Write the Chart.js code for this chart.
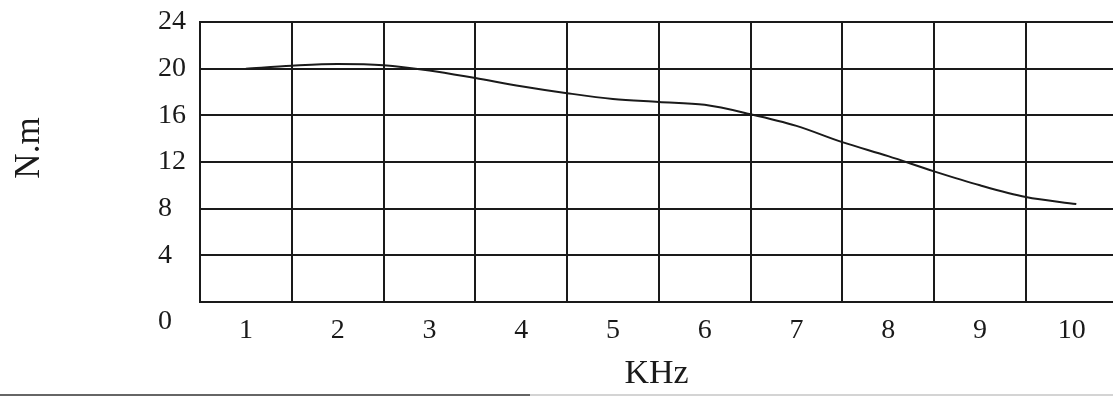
<!DOCTYPE html>
<html>
<head>
<meta charset="utf-8">
<script src="https://cdn.jsdelivr.net/npm/chart.js@4/dist/chart.umd.min.js"></script>
<style>
  html, body { margin: 0; padding: 0; background: #fff; overflow: hidden; }
  #wrap { position: relative; width: 1113px; height: 397px; }
  #c { display: block; }
  .scan1 { position: absolute; left: 0; top: 394px; width: 530px; height: 2px; background: #666; }
  .scan2 { position: absolute; left: 530px; top: 394px; width: 583px; height: 2px; background: #d4d4d4; }
</style>
</head>
<body>
<div id="wrap">
  <canvas id="c" width="1113" height="397"></canvas>
  <div class="scan1"></div><div class="scan2"></div>
</div>
<script>
// ---- data ----
const freqKHz = [1, 1.5, 2, 2.5, 3, 3.5, 4, 4.5, 5, 5.5, 6, 6.5, 7, 7.5, 8, 8.5, 9, 9.5, 10.05];
const torqueNm = [20.0, 20.25, 20.4, 20.3, 19.85, 19.2, 18.5, 17.9, 17.4, 17.15, 16.9, 16.1, 15.1, 13.7, 12.5, 11.2, 10.0, 9.0, 8.4];
const xTickValues = [1, 2, 3, 4, 5, 6, 7, 8, 9, 10];
const xTickLabels = ['1', '2', '3', '4', '5', '6', '7', '8', '9', '10'];
const yTickValues = [0, 4, 8, 12, 16, 20, 24];
const xTitle = 'KHz';
const yTitle = 'N.m';

const FONT = "'Liberation Serif', 'Times New Roman', serif";
const INK = '#1a1a1a';
const PAD = '\u2002'; // en space = one digit width, keeps single digits left-aligned with two-digit labels

// x grid lines sit at half-integers (cell borders), labels at integers (cell centres)
const xTickList = [];
xTickValues.forEach(v => { xTickList.push(v - 0.5); xTickList.push(v); });

const extraText = {
  id: 'extraText',
  afterDraw(chart) {
    const { ctx } = chart;
    const y = chart.scales.y;
    ctx.save();
    ctx.fillStyle = INK;
    // "0" of the y axis sits level with the x labels
    ctx.font = '28px ' + FONT;
    ctx.textAlign = 'right';
    ctx.textBaseline = 'middle';
    ctx.fillText(String(yTickValues[0]) + PAD, y.right - 14, y.getPixelForValue(0) + 20);
    // y axis title
    ctx.font = '35px ' + FONT;
    ctx.textAlign = 'center';
    ctx.translate(30, 148);
    ctx.rotate(-Math.PI / 2);
    ctx.fillText(yTitle, 0, 0);
    ctx.restore();
  }
};

new Chart(document.getElementById('c'), {
  type: 'line',
  data: {
    datasets: [{
      data: freqKHz.map((x, i) => ({ x, y: torqueNm[i] })),
      borderColor: INK,
      borderWidth: 2,
      pointRadius: 0,
      fill: false,
      cubicInterpolationMode: 'monotone'
    }]
  },
  plugins: [extraText],
  options: {
    responsive: false,
    animation: false,
    layout: { padding: { top: 22, right: 0, left: 0, bottom: 0 } },
    plugins: { legend: { display: false }, tooltip: { enabled: false } },
    scales: {
      x: {
        type: 'linear',
        min: 0.5,
        max: 10.45,
        afterBuildTicks(scale) { scale.ticks = xTickList.map(v => ({ value: v })); },
        afterFit(scale) { scale.height = 95; scale.paddingLeft = 0; scale.paddingRight = 0; },
        grid: {
          color: ctx => (ctx.tick && Number.isInteger(ctx.tick.value)) ? 'rgba(0,0,0,0)' : INK,
          lineWidth: 2,
          drawTicks: false
        },
        border: { color: INK, width: 2 },
        ticks: {
          autoSkip: false,
          maxRotation: 0,
          padding: 12,
          color: INK,
          font: { family: FONT, size: 28 },
          callback: v => {
            const i = xTickValues.indexOf(v);
            return i >= 0 ? xTickLabels[i] : '';
          }
        },
        title: {
          display: true,
          text: xTitle,
          color: INK,
          font: { family: FONT, size: 34 },
          padding: { top: 2, bottom: 3 }
        }
      },
      y: {
        min: 0,
        max: 24,
        afterBuildTicks(scale) { scale.ticks = yTickValues.map(v => ({ value: v })); },
        afterFit(scale) { scale.width = 200; scale.paddingTop = 0; scale.paddingBottom = 0; },
        grid: { color: INK, lineWidth: 2, drawTicks: false },
        border: { color: INK, width: 2 },
        ticks: {
          padding: 14,
          color: INK,
          font: { family: FONT, size: 28 },
          callback: v => (v === 0 ? '' : (v < 10 ? String(v) + PAD : String(v)))
        },
        title: { display: false, text: yTitle }
      }
    }
  }
});
</script>
</body>
</html>
